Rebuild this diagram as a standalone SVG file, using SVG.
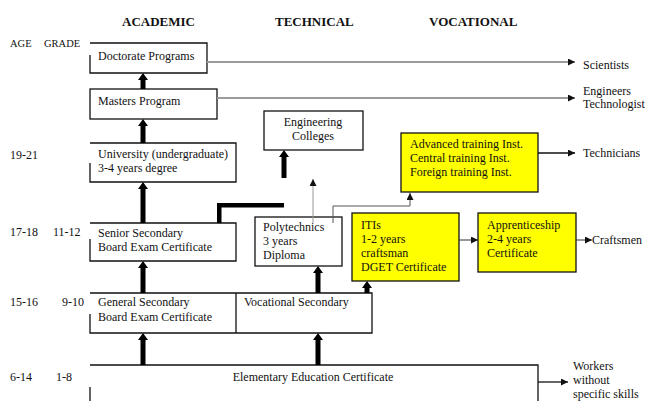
<svg xmlns="http://www.w3.org/2000/svg" width="645" height="401" viewBox="0 0 645 401">
<defs>
<marker id="ah" viewBox="0 0 8 8" refX="8" refY="4" markerWidth="7" markerHeight="7" markerUnits="userSpaceOnUse" orient="auto"><path d="M0,0 L8,4 L0,8 Z" fill="#111"/></marker>
<style>
text{font-family:"Liberation Serif","Times New Roman",serif;font-size:12px;fill:#111}
.h{font-weight:bold;font-size:13px}
.s{font-size:10.5px}
.box{fill:#fff;stroke:#111;stroke-width:1.3}
.yel{fill:#ffff00;stroke:#111;stroke-width:1.3}
.ln{fill:none;stroke:#111;stroke-width:1.3}
.gray{fill:none;stroke:#9a9a9a;stroke-width:2}
.thin{fill:none;stroke:#333;stroke-width:1}
.tk{fill:#000}
</style>
</defs>
<rect width="645" height="401" fill="#fff"/>
<g id="headers">
<text class="h" x="122" y="26">ACADEMIC</text>
<text class="h" x="275" y="26">TECHNICAL</text>
<text class="h" x="429" y="26">VOCATIONAL</text>
<text class="s" x="10" y="47">AGE</text>
<text class="s" x="44" y="47">GRADE</text>
<text x="10" y="159">19-21</text>
<text x="10" y="236">17-18</text>
<text x="53" y="236">11-12</text>
<text x="10" y="306">15-16</text>
<text x="62" y="306">9-10</text>
<text x="10" y="381">6-14</text>
<text x="56" y="381">1-8</text>
</g>
<g id="doctorate">
<path class="ln" d="M90,55 V73 H207 V43 H90"/>
<text x="98" y="60">Doctorate Programs</text>
</g>
<g id="masters">
<rect class="box" x="90" y="89" width="127" height="30"/>
<text x="98" y="105">Masters Program</text>
</g>
<g id="university">
<path class="ln" d="M90,163 V182 H236 V143 H90"/>
<text x="98" y="158">University (undergraduate)</text>
<text x="98" y="172">3-4 years degree</text>
</g>
<g id="engineering">
<rect class="box" x="264" y="111" width="99" height="39"/>
<text x="313" y="126" text-anchor="middle">Engineering</text>
<text x="313" y="140" text-anchor="middle">Colleges</text>
</g>
<g id="advanced">
<rect class="yel" x="401" y="133" width="137" height="59"/>
<text x="410" y="148">Advanced training Inst.</text>
<text x="410" y="162">Central training Inst.</text>
<text x="410" y="176">Foreign training Inst.</text>
</g>
<g id="senior">
<path class="ln" d="M90,239 V261 H236 V223 H90"/>
<text x="98" y="237">Senior Secondary</text>
<text x="98" y="251">Board Exam Certificate</text>
</g>
<g id="polytechnics">
<rect class="box" x="255" y="217" width="87" height="49"/>
<text x="263" y="231">Polytechnics</text>
<text x="263" y="245">3 years</text>
<text x="263" y="259">Diploma</text>
</g>
<g id="itis">
<rect class="yel" x="352" y="213" width="107" height="68"/>
<text x="361" y="229">ITIs</text>
<text x="361" y="243">1-2 years</text>
<text x="361" y="257">craftsman</text>
<text x="361" y="271">DGET Certificate</text>
</g>
<g id="apprenticeship">
<rect class="yel" x="478" y="213" width="98" height="59"/>
<text x="487" y="229">Apprenticeship</text>
<text x="487" y="243">2-4 years</text>
<text x="487" y="257">Certificate</text>
</g>
<g id="general">
<path class="ln" d="M90,314 V333 H372 V293 H90"/>
<text x="98" y="306">General Secondary</text>
<text x="98" y="321">Board Exam Certificate</text>
</g>
<g id="vocational">
<line class="ln" x1="236" y1="293" x2="236" y2="333"/>
<text x="244" y="306">Vocational Secondary</text>
</g>
<g id="elementary">
<path class="ln" d="M90,387 V401 M90,365 H538 V401"/>
<text x="313" y="381" text-anchor="middle">Elementary Education Certificate</text>
</g>
<g id="outcomes">
<text x="583" y="69">Scientists</text>
<text x="583" y="95">Engineers</text>
<text x="583" y="108">Technologist</text>
<text x="583" y="157">Technicians</text>
<text x="592" y="244">Craftsmen</text>
<text x="573" y="370">Workers</text>
<text x="573" y="384">without</text>
<text x="573" y="398">specific skills</text>
</g>
<g id="connectors">
<line class="gray" x1="207" y1="62" x2="575" y2="62" marker-end="url(#ah)"/>
<line class="gray" x1="217" y1="98" x2="575" y2="98" marker-end="url(#ah)"/>
<line class="ln" x1="538" y1="153" x2="575" y2="153" marker-end="url(#ah)"/>
<line class="thin" x1="459" y1="240" x2="478" y2="240" marker-end="url(#ah)"/>
<line class="thin" x1="576" y1="240" x2="592" y2="240" marker-end="url(#ah)"/>
<line class="ln" x1="538" y1="382" x2="568" y2="382" marker-end="url(#ah)"/>
<line x1="313" y1="223" x2="313" y2="179" stroke="#9a9a9a" stroke-width="1" marker-end="url(#ah)"/>
<path d="M333,223 V206 H410 V193" fill="none" stroke="#555" stroke-width="1" marker-end="url(#ah)"/>
<path class="tk" d="M217,223 V203 H284 V207.5 H221.5 V223 Z"/>
<path class="tk" d="M140.5,89 V80 H138 L143,73 L148,80 H145.5 V89 Z"/>
<path class="tk" d="M140.5,143 V126 H138 L143,119 L148,126 H145.5 V143 Z"/>
<path class="tk" d="M140.5,223 V189 H138 L143,182 L148,189 H145.5 V223 Z"/>
<path class="tk" d="M140.5,293 V268 H138 L143,261 L148,268 H145.5 V293 Z"/>
<path class="tk" d="M140.5,365 V340 H138 L143,333 L148,340 H145.5 V365 Z"/>
<path class="tk" d="M281.5,178 V157 H279 L284,150 L289,157 H286.5 V178 Z"/>
<path class="tk" d="M315.5,293 V273 H313 L318,266 L323,273 H320.5 V293 Z"/>
<path class="tk" d="M315.5,365 V340 H313 L318,333 L323,340 H320.5 V365 Z"/>
<path class="tk" d="M364.5,293 V288 H362 L367,281 L372,288 H369.5 V293 Z"/>
</g>
</svg>
